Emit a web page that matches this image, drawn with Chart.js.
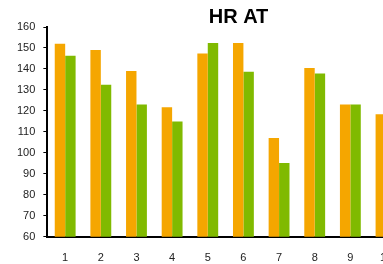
<!DOCTYPE html>
<html>
<head>
<meta charset="utf-8">
<script src="https://cdn.jsdelivr.net/npm/chart.js@4"></script>
<style>
  html, body { margin: 0; padding: 0; overflow: hidden; background: #fff; }
  .parent { width: 383px; height: 264px; overflow: hidden; }
</style>
</head>
<body>
<div class="parent">
  <canvas id="chart" width="477" height="280"></canvas>
</div>
<script>
// categories 1..10 (the 10th is cut off at the right edge of the picture)
const categories = [1, 2, 3, 4, 5, 6, 7, 8, 9, 10];
const orangeValues = [152, 149, 139, 121.7, 147.4, 152.4, 107.1, 140.5, 123.1, 118.4];
const greenValues = [146.3, 132.5, 123.1, 115, 152.4, 138.7, 95.2, 137.8, 123.1, null];

const toPoints = vals => categories.map((c, i) => ({ x: c, y: vals[i] }));
const fontFamily = 'Liberation Sans, Arial, sans-serif';

const ctx = document.getElementById('chart').getContext('2d');
new Chart(ctx, {
    type: 'bar',
    data: {
        datasets: [{
            label: 'A',
            data: toPoints(orangeValues),
            backgroundColor: '#F5A600',
            categoryPercentage: 0.585,
            barPercentage: 1
        }, {
            label: 'B',
            data: toPoints(greenValues),
            backgroundColor: '#80BA00',
            categoryPercentage: 0.585,
            barPercentage: 1
        }]
    },
    options: {
        responsive: false,
        animation: false,
        layout: { padding: { left: 9, right: 9, top: 7, bottom: 0 } },
        plugins: {
            legend: { display: false },
            tooltip: { enabled: false },
            title: {
                display: true,
                text: 'HR AT',
                color: '#000',
                font: { family: fontFamily, size: 20, weight: 'bold', lineHeight: 1 },
                padding: { top: 0, bottom: 0 }
            }
        },
        scales: {
            x: {
                type: 'linear',
                min: 0.5,
                max: 12.3,
                offset: false,
                afterBuildTicks: axis => {
                    axis.ticks = categories.map(c => ({ value: c }));
                },
                grid: { display: true, offset: false, drawOnChartArea: false, drawTicks: false },
                border: { display: true, color: '#000', width: 2 },
                ticks: {
                    color: '#222',
                    padding: 15,
                    maxRotation: 0,
                    autoSkip: false,
                    font: { family: fontFamily, size: 11 }
                }
            },
            y: {
                min: 60,
                max: 160,
                grid: { display: true, drawOnChartArea: false, drawTicks: true, tickLength: 4, tickColor: '#000' },
                border: { display: true, color: '#000', width: 2 },
                ticks: {
                    stepSize: 10,
                    color: '#222',
                    padding: 8,
                    font: { family: fontFamily, size: 11 }
                }
            }
        }
    }
});
</script>
</body>
</html>
